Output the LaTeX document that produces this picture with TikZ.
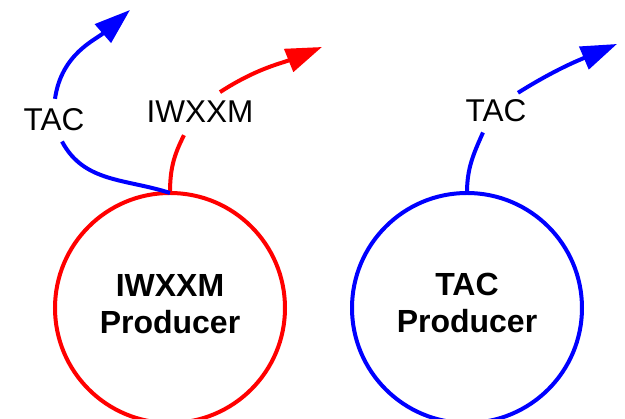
\documentclass[tikz,border=0pt]{standalone}
\usepackage{fontspec}
\setmainfont{Liberation Sans}
\usetikzlibrary{arrows.meta}
\begin{document}
\begin{tikzpicture}[x=1pt,y=1pt,
 proc/.style={circle,draw,line width=4pt,minimum size=230pt,inner sep=0pt,outer sep=0pt},
 ptext/.style={font=\fontsize{32}{37}\selectfont\bfseries,align=center,inner sep=0pt},
 flabel/.style={font=\fontsize{31.5}{36}\selectfont,inner sep=10pt},
 seg/.style={line width=4pt},
 flow/.style={line width=4pt,-{Triangle[length=36pt,width=24pt]}}]
\useasboundingbox (0,0) rectangle (625,419);
\node[proc,draw=red] (iwp) at (170,111) {};
\node[ptext] (iwpt) at (170,115) {IWXXM\\Producer};
\node[proc,draw=blue] (tacp) at (467,111) {};
\node[ptext] (tacpt) at (467,116) {TAC\\Producer};
\node[flabel,anchor=base] (tacl) at (54,288) {TAC};
\node[flabel,anchor=base] (iwl) at (200,296) {IWXXM};
\node[flabel,anchor=base] (tacr) at (496,297) {TAC};
\coordinate (e1) at (130,409);
\coordinate (e2) at (322,372);
\coordinate (e3) at (617,375);
\draw[seg,red] (iwp.north) to[out=90,in=243] ([xshift=-16pt,yshift=-2pt]iwl.south);
\draw[flow,red] ([xshift=20pt,yshift=-1pt]iwl.north) to[out=33,in=202] (e2);
\draw[seg,blue] (iwp.north) to[out=162,in=-62] ([xshift=8pt]tacl.south);
\draw[flow,blue] ([xshift=1pt]tacl.north) to[out=82,in=221] (e1);
\draw[seg,blue] (tacp.north) to[out=90,in=246] ([xshift=-13pt]tacr.south);
\draw[flow,blue] ([xshift=22pt,yshift=-3pt]tacr.north) to[out=32,in=203] (e3);
\end{tikzpicture}
\end{document}
